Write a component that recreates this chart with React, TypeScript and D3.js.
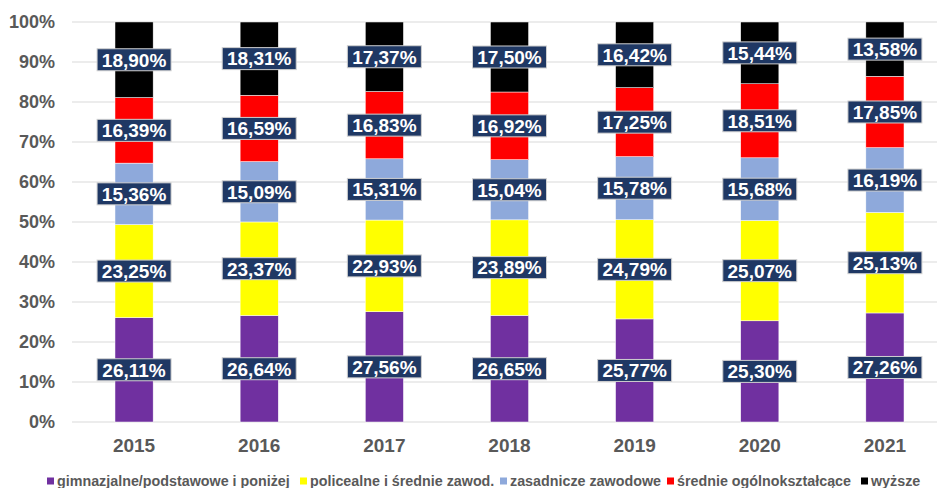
import React from "react";
import * as d3 from "d3";

const years = ["2015", "2016", "2017", "2018", "2019", "2020", "2021"];
const seriesNames = [
  "gimnazjalne/podstawowe i poniżej",
  "policealne i średnie zawod.",
  "zasadnicze zawodowe",
  "średnie ogólnokształcące",
  "wyższe",
];
const seriesColors = ["#7030A0", "#FFFF00", "#8EA9DB", "#FF0000", "#000000"];
const gimnazjalne = [26.11, 26.64, 27.56, 26.65, 25.77, 25.3, 27.26];
const policealne = [23.25, 23.37, 22.93, 23.89, 24.79, 25.07, 25.13];
const zasadnicze = [15.36, 15.09, 15.31, 15.04, 15.78, 15.68, 16.19];
const srednie = [16.39, 16.59, 16.83, 16.92, 17.25, 18.51, 17.85];
const wyzsze = [18.9, 18.31, 17.37, 17.5, 16.42, 15.44, 13.58];
const yTicks = [0, 10, 20, 30, 40, 50, 60, 70, 80, 90, 100];
const legendX = [47, 300, 500, 667, 861];

const W = 937;
const H = 488;

export default function App() {
  const series = [gimnazjalne, policealne, zasadnicze, srednie, wyzsze];
  const rows = years.map((y, i) => {
    const r: any = { year: y };
    series.forEach((s, k) => (r["s" + k] = s[i]));
    return r;
  });
  const stack = d3.stack().keys(series.map((_, k) => "s" + k));
  const stacked = stack(rows);

  const x = d3.scaleBand().domain(years).range([71.5, 947.5]).paddingInner(0.695).paddingOuter(0.3475);
  const y = d3.scaleLinear().domain([0, 100]).range([422, 22]);
  const bw = x.bandwidth();
  const font = "'Liberation Sans', Arial, sans-serif";

  return (
    <svg width={W} height={H} style={{ position: "absolute", left: 0, top: 0, background: "#fff" }} fontFamily={font}>
      {yTicks.map((t) => (
        <g key={t}>
          <line x1={72} x2={W} y1={y(t)} y2={y(t)} stroke="#D9D9D9" strokeWidth={1.2} />
          <text x={55} y={y(t)} dy="0.36em" textAnchor="end" fontSize={18} fontWeight="bold" fill="#595959">
            {t}%
          </text>
        </g>
      ))}
      {stacked.map((layer, k) => (
        <g key={k}>
          {layer.map((d, i) => (
            <rect
              key={i}
              x={x(years[i])!}
              width={bw}
              y={y(d[1])}
              height={y(d[0]) - y(d[1])}
              fill={seriesColors[k]}
              stroke="#fff"
              strokeWidth={0.5}
            />
          ))}
        </g>
      ))}
      {stacked.map((layer, k) => (
        <g key={"l" + k}>
          {layer.map((d, i) => {
            const cx = x(years[i])! + bw / 2;
            const cy = y((d[0] + d[1]) / 2);
            const label = series[k][i].toFixed(2).replace(".", ",") + "%";
            return (
              <g key={i}>
                <rect x={cx - 37} y={cy - 11} width={74} height={22} fill="#1F3864" stroke="#D0D0D0" strokeWidth={1} />
                <text x={cx} y={cy} dy="0.36em" textAnchor="middle" fontSize={19} fontWeight="bold" fill="#fff">
                  {label}
                </text>
              </g>
            );
          })}
        </g>
      ))}
      {years.map((yr) => (
        <text key={yr} x={x(yr)! + bw / 2} y={445} dy="0.36em" textAnchor="middle" fontSize={19} fontWeight="bold" fill="#595959">
          {yr}
        </text>
      ))}
      {seriesNames.map((n, k) => (
        <g key={n}>
          <rect x={legendX[k]} y={477.5} width={7} height={7} fill={seriesColors[k]} />
          <text x={legendX[k] + 10} y={481} dy="0.36em" fontSize={14.3} fontWeight="bold" fill="#595959">
            {n}
          </text>
        </g>
      ))}
    </svg>
  );
}
